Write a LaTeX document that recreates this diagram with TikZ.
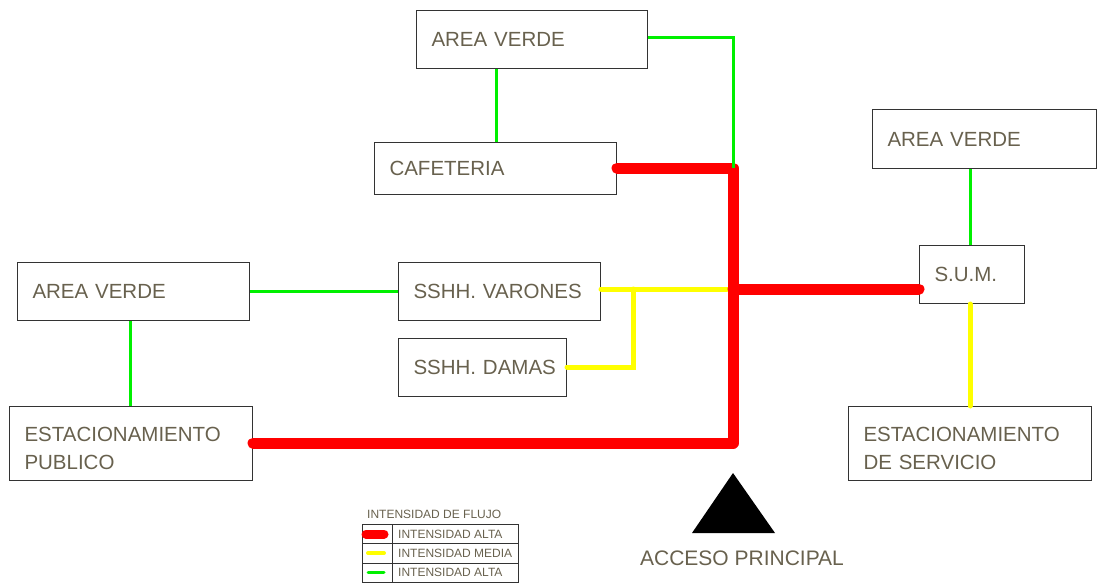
\documentclass[tikz,border=0pt]{standalone}
\usepackage{fontspec}
\setmainfont{Liberation Sans}
\definecolor{txt}{RGB}{104,97,78}
\definecolor{hired}{RGB}{255,0,0}
\definecolor{medyel}{RGB}{255,255,0}
\definecolor{lowgrn}{RGB}{0,240,0}
\begin{document}
\begin{tikzpicture}[x=1pt,y=1pt,
  box/.style={draw=black!80,line width=1pt,anchor=north west,inner xsep=15pt,inner ysep=0pt,
    align=left,font=\fontsize{20.5}{28}\selectfont,text=txt},
  redl/.style={draw=hired,line width=11pt,line cap=round},
  yell/.style={draw=medyel,line width=5pt,line cap=round},
  grnl/.style={draw=lowgrn,line width=3pt},
  legt/.style={font=\fontsize{12}{13}\selectfont,text=txt,anchor=west,inner sep=0pt}]
\useasboundingbox (0,0) rectangle (1097,-586);
% boxes
\node[box,minimum width=231,minimum height=58,text width=201] (avt) at (416,-10) {AREA VERDE};
\node[box,minimum width=242,minimum height=52,text width=212] (caf) at (374,-142) {CAFETERIA};
\node[box,minimum width=224,minimum height=59,text width=194] (avr) at (872,-109) {AREA VERDE};
\node[box,minimum width=105,minimum height=58,text width=75] (sum) at (919,-245) {S.U.M.};
\node[box,minimum width=232,minimum height=58,text width=202] (avl) at (17,-262) {AREA VERDE};
\node[box,minimum width=202,minimum height=58,text width=172] (var) at (398,-262) {SSHH. VARONES};
\node[box,minimum width=168,minimum height=58,text width=138] (dam) at (398,-338) {\makebox[138pt][l]{SSHH. DAMAS}};
\node[box,minimum width=243,minimum height=74,text width=213] (ep) at (9,-406) {\rule{0pt}{25pt}ESTACIONAMIENTO\\PUBLICO};
\node[box,minimum width=243,minimum height=74,text width=213] (es) at (848,-406) {\rule{0pt}{25pt}ESTACIONAMIENTO\\DE SERVICIO};
% junctions
\coordinate (jtop) at (733,-168);
\coordinate (jmid) at (733,-289);
\coordinate (jbot) at (733,-443);
\coordinate (jyel) at (727,-289);
\coordinate (jdam) at (633,-289);
% yellow
\draw[yell] (var.east |- jyel) -- (jyel);
\draw[yell,line join=miter] (jdam) |- (dam.east |- 0,-367);
\draw[yell] (sum.south -| 970,0) -- (es.north -| 970,0);
% red
\draw[redl,line join=round] (caf.east |- jtop) -- (jtop) -- (jbot) -- (ep.east |- jbot);
\draw[redl] (jmid) -- (sum.west |- jmid);
% green
\draw[grnl] (avt.south -| 496,0) -- (caf.north -| 496,0);
\draw[grnl] (avt.east |- 0,-38) -| (jtop);
\draw[grnl] (avl.east |- 0,-291) -- (var.west |- 0,-291);
\draw[grnl] (avl.south -| 130,0) -- (ep.north -| 130,0);
\draw[grnl] (avr.south -| 970,0) -- (sum.north -| 970,0);
% access
\fill[black] (733,-473) -- (775,-533) -- (692,-533) -- cycle;
\node[font=\fontsize{21}{24}\selectfont,text=txt,anchor=center] (acc) at (742,-558) {ACCESO PRINCIPAL};
% legend
\node[legt] (lt) at (367,-514) {INTENSIDAD DE FLUJO};
\draw[black!80,line width=0.8pt] (362,-524) rectangle (518,-582);
\draw[black!80,line width=0.8pt] (362,-543) -- (518,-543) (362,-563) -- (518,-563) (392,-524) -- (392,-582);
\draw[draw=hired,line width=9pt,line cap=round] (366,-534) -- (384,-534);
\draw[draw=medyel,line width=4pt,line cap=round] (368,-553) -- (384,-553);
\draw[draw=lowgrn,line width=3pt,line cap=round] (368,-572) -- (384,-572);
\node[legt] (l1) at (398,-534) {INTENSIDAD ALTA};
\node[legt] (l2) at (398,-553) {INTENSIDAD MEDIA};
\node[legt] (l3) at (398,-572) {INTENSIDAD ALTA};
\end{tikzpicture}
\end{document}
